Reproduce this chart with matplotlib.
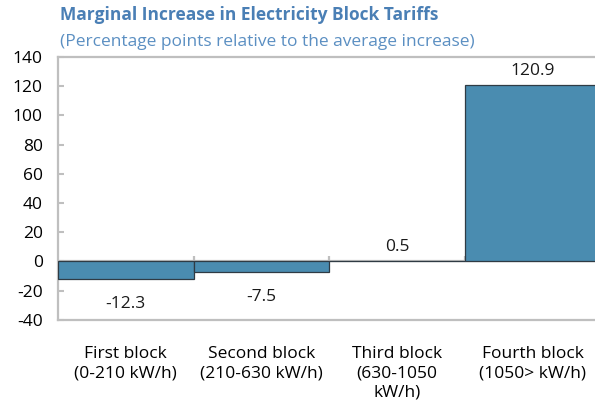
import numpy as np
import matplotlib.pyplot as plt

plt.rcParams['font.family'] = ['Open Sans', 'DejaVu Sans']

# data
categories = ['First block\n(0-210 kW/h)', 'Second block\n(210-630 kW/h)',
              'Third block\n(630-1050\nkW/h)', 'Fourth block\n(1050> kW/h)']
values = [-12.3, -7.5, 0.5, 120.9]
value_labels = ['-12.3', '-7.5', '0.5', '120.9']
yticks = [-40, -20, 0, 20, 40, 60, 80, 100, 120, 140]

bar_color = '#4a8cb0'
grey = '#bfbfbf'
fs = 12.5

fig = plt.figure(figsize=(5.95, 4.07), dpi=100)
ax = fig.add_axes([0.0975, 0.214, 0.912, 0.646])

x = np.arange(len(values))
ax.bar(x, values, width=1.0, color=bar_color, edgecolor='#2f3b44', linewidth=0.9, zorder=3)

# zero line with category separator ticks
ax.axhline(0, color=grey, lw=1.6, zorder=2)
ax.vlines([0.5, 1.5, 2.5], 0, 4, color=grey, lw=1.6, zorder=2)

# value labels
for xi, v, lab in zip(x, values, value_labels):
    off = 10 if v >= 0 else -18
    ax.annotate(lab, (xi, v), xytext=(0, off), textcoords='offset points',
                ha='center', va='center', fontsize=fs, color='#1a1a1a')

ax.set_xlim(-0.5, 3.5)
ax.set_ylim(-40, 140)
ax.set_yticks(yticks)
ax.set_yticklabels([str(t) for t in yticks], fontsize=fs)
ax.set_xticks(x)
ax.set_xticklabels(categories, fontsize=fs, linespacing=1.25)
ax.tick_params(axis='y', direction='in', length=4, width=1.5, color=grey, pad=11)
ax.tick_params(axis='x', length=0, pad=19)

for s in ['top', 'bottom', 'left']:
    ax.spines[s].set_color(grey)
    ax.spines[s].set_linewidth(1.6)
ax.spines['right'].set_visible(False)

fig.text(0.1, 0.962, 'Marginal Increase in Electricity Block Tariffs',
         fontsize=fs, fontweight='bold', color='#4a7fb5', va='center')
fig.text(0.1, 0.898, '(Percentage points relative to the average increase)',
         fontsize=fs, color='#5b8fc2', va='center')

fig.savefig('out.png', dpi=100)
